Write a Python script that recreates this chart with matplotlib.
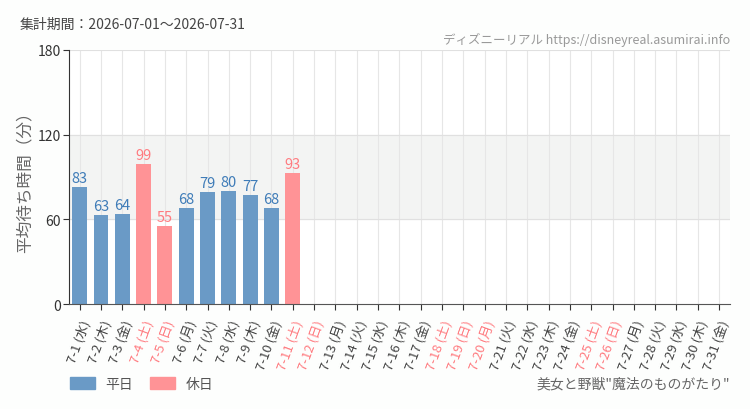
import matplotlib
matplotlib.use("Agg")
import matplotlib.pyplot as plt
from matplotlib.patches import Patch

plt.rcParams['font.family'] = ['Noto Sans CJK JP', 'DejaVu Sans']

# data
days = list(range(1, 32))
weekdays = ["水", "木", "金", "土", "日", "月", "火"]
day_names = [weekdays[(d - 1) % 7] for d in days]
holidays = [4, 5, 11, 12, 18, 19, 20, 25, 26]
wait_times = [83, 63, 64, 99, 55, 68, 79, 80, 77, 68, 93]

labels = [f"7-{d} ({w})" for d, w in zip(days, day_names)]

blue = "#6a9ac6"
pink = "#ff9396"
blue_txt = "#3f7cb8"
pink_txt = "#ff7b80"

fig = plt.figure(figsize=(7.5, 4.1), dpi=100, facecolor="#fdfefd")
ax = fig.add_axes([0.092, 0.256, 0.881, 0.62])
ax.set_facecolor("white")

ax.axhspan(60, 120, color="#f3f4f3", zorder=0)
for x in range(len(days)):
    ax.axvline(x, color="#e6e6e6", lw=0.8, zorder=0.5)
for y in [60, 120, 180]:
    ax.axhline(y, color="#e0e0e0", lw=0.8, zorder=0.5)

for i, v in enumerate(wait_times):
    hol = days[i] in holidays
    ax.bar(i, v, width=0.7, color=pink if hol else blue, zorder=2)
    ax.text(i, v + 1.5, str(v), ha="center", va="bottom", fontsize=10.5,
            color=pink_txt if hol else blue_txt)

ax.set_xlim(-0.5, len(days) - 0.5)
ax.set_ylim(0, 180)
ax.set_yticks([0, 60, 120, 180])
ax.tick_params(axis="y", labelsize=10, colors="#333333", length=4, pad=2)
ax.set_xticks(range(len(days)))
ax.set_xticklabels(labels, rotation=70, ha="right", rotation_mode="anchor", fontsize=9.5)
ax.tick_params(axis="x", length=4, color="#333333", pad=6)
for lbl, d in zip(ax.get_xticklabels(), days):
    lbl.set_color(pink_txt if d in holidays else "#444444")

for s in ["top", "right"]:
    ax.spines[s].set_visible(False)
ax.spines["left"].set_color("#333333")
ax.spines["bottom"].set_color("#555555")

ax.set_ylabel("平均待ち時間（分）", fontsize=12, color="#666666")
ax.yaxis.set_label_coords(-0.054, 0.5)

fig.text(20 / 750, 1 - 25 / 410, "集計期間：2026-07-01～2026-07-31", fontsize=10,
         color="#444444", va="center")
fig.text(730 / 750, 1 - 40 / 410, "ディズニーリアル https://disneyreal.asumirai.info",
         fontsize=9, color="#999999", ha="right", va="center")
fig.text(730 / 750, 1 - 385 / 410, "美女と野獣\"魔法のものがたり\"", fontsize=10,
         color="#666666", ha="right", va="center")

handles = [Patch(color=blue, label="平日"), Patch(color=pink, label="休日")]
fig.legend(handles=handles, loc="center left", bbox_to_anchor=(57 / 750, 1 - 385 / 410),
           ncol=2, frameon=False, fontsize=10, handlelength=1.8, handleheight=0.9,
           columnspacing=1.2, labelcolor="#555555")

fig.savefig("out.png", dpi=100, facecolor=fig.get_facecolor())
